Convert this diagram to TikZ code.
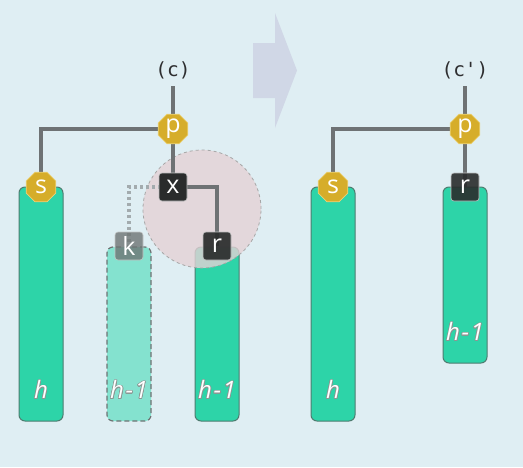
\documentclass[tikz,border=0pt]{standalone}
\usepackage{fontspec}
\setmainfont{Open Sans}
\newfontfamily\monofnt{DejaVu Sans Mono}
\usepackage{contour}
\contourlength{0.6pt}
\contournumber{16}
\usetikzlibrary{shapes.geometric}
\definecolor{bgc}{HTML}{DFEEF3}
\definecolor{barc}{HTML}{2DD4A8}
\definecolor{barlt}{HTML}{84E2CF}
\definecolor{barbd}{HTML}{4E7C70}
\definecolor{goldc}{HTML}{D6AD2A}
\definecolor{goldbd}{HTML}{EAD27A}
\definecolor{darkc}{HTML}{2A2C2C}
\definecolor{ghostc}{HTML}{6E7474}
\definecolor{linec}{HTML}{6E7274}
\definecolor{dotc}{HTML}{A3ABAE}
\definecolor{pinkc}{HTML}{E4D2D6}
\definecolor{arrowc}{HTML}{D0D7E6}
\definecolor{txtc}{HTML}{2E2E30}
\definecolor{outc}{HTML}{8A9894}
\newcommand{\hl}[1]{\contour{outc}{#1}}
\begin{document}
\begin{tikzpicture}[x=1pt,y=-1pt,
  barbox/.style={draw=barbd,line width=1pt,fill=barc,rounded corners=6pt,minimum width=44pt,inner sep=0pt},
  ghostbar/.style={barbox,fill=barlt,draw=ghostc,line width=1.2pt,dash pattern=on 5pt off 3pt},
  octo/.style={regular polygon,regular polygon sides=8,minimum size=32pt,inner sep=0pt,fill=goldc,draw=goldbd,line width=0.8pt,text=white,font=\fontsize{25}{25}\selectfont},
  sq/.style={rectangle,rounded corners=3pt,minimum size=28pt,inner sep=0pt,fill=darkc,draw=white!70!darkc,line width=0.6pt,text=white,font=\fontsize{25}{25}\selectfont},
  ghostsq/.style={sq,fill=ghostc,fill opacity=0.8,draw=white!60!ghostc,text opacity=1},
  hlab/.style={text=white,font=\fontsize{24}{24}\selectfont\itshape},
  conn/.style={draw=linec,line width=4pt},
  dotconn/.style={draw=dotc,line width=4pt,dash pattern=on 3pt off 3pt},
  toplab/.style={text=txtc,font=\monofnt\fontsize{19.5}{19.5}\selectfont}]
\useasboundingbox (0,0) rectangle (523,467);
\fill[bgc] (0,0) rectangle (523,467);
% big arrow
\fill[arrowc] (253,43) -- (275,43) -- (275,13) -- (297,70.5) -- (275,128) -- (275,98) -- (253,98) -- cycle;
% bars
\node[barbox,minimum height=234pt] (bs) at (41,304) {};
\node[ghostbar,minimum height=174pt] (bk) at (129,334) {};
\node[barbox,minimum height=174pt] (br) at (217,334) {};
\node[barbox,minimum height=234pt] (bs2) at (333,304) {};
\node[barbox,minimum height=176pt] (br2) at (465,275) {};
% circle
\node[circle,minimum size=118pt,fill=pinkc,fill opacity=0.8,draw=black!35,dashed,line width=0.8pt] (circ) at (202,209) {};
% h labels
\node[hlab] (hs) at (41,390) {\hl{h}};
\node[hlab] (hk) at (129,390) {\hl{h{\kern1.5pt}-{\kern1.5pt}1}};
\node[hlab] (hr) at (217,390) {\hl{h{\kern1.5pt}-{\kern1.5pt}1}};
\node[hlab] (hs2) at (333,390) {\hl{h}};
\node[hlab] (hr2) at (465,332) {\hl{h{\kern1.5pt}-{\kern1.5pt}1}};
% top labels
\node[toplab] (c) at (173,70) {(c)};
\node[toplab] (c2) at (465,70) {(c')};
% connectors
\draw[conn] (173,86) coordinate (ct) -- (173,129);
\draw[conn] (173,129) -| (41,187);
\draw[conn] (173,129) -- (173,187);
\draw[conn] (173,187) -| (217,246);
\draw[dotconn] (173,187) -| (129,246);
\draw[conn] (465,86) coordinate (ct2) -- (465,129);
\draw[conn] (465,129) -| (333,187);
\draw[conn] (465,129) -- (465,187);
% nodes
\node[octo] (p) at (173,129) {p};
\node[octo] (s) at (41,187) {s};
\node[sq] (x) at (173,187) {x};
\node[ghostsq] (k) at (129,246) {k};
\node[sq,fill opacity=0.92,text opacity=1] (r) at (217,246) {r};
\node[octo] (p2) at (465,129) {p};
\node[octo] (s2) at (333,187) {s};
\node[sq,fill opacity=0.9,text opacity=1] (r2) at (465,187) {r};
\end{tikzpicture}
\end{document}
